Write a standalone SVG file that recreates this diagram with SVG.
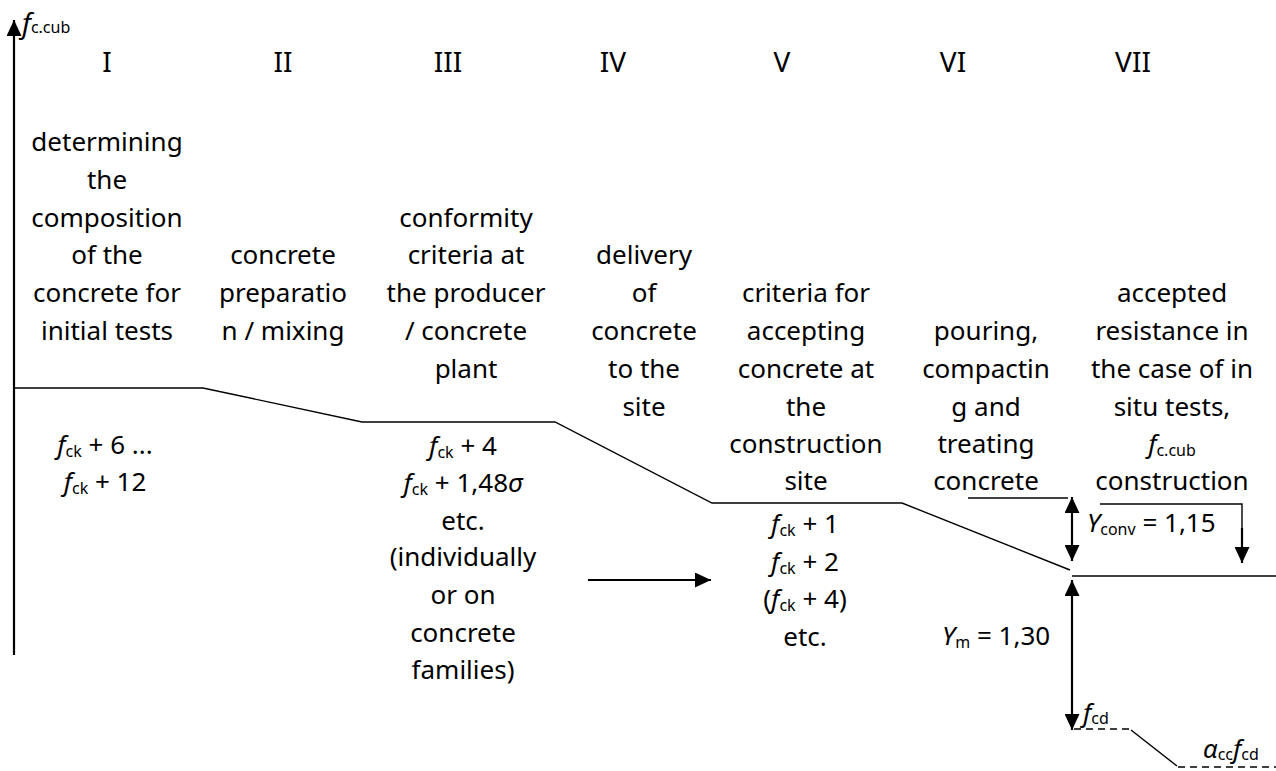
<svg xmlns="http://www.w3.org/2000/svg" width="1276" height="771" viewBox="0 0 1276 771">
<defs>
<style>
text{font-family:"Noto Sans","Open Sans",sans-serif;fill:#000;}
.col{font-size:26px;text-anchor:middle;}
.num{font-size:28px;text-anchor:middle;}
.m{font-size:26px;text-anchor:middle;}
.ml{font-size:26px;}
.i{font-style:italic;}
.s{font-size:16px;}
.thin{stroke:#000;stroke-width:1.4;fill:none;}
.thick{stroke:#000;stroke-width:2.2;fill:none;}
.dash{stroke:#000;stroke-width:1.6;fill:none;stroke-dasharray:7 5;}
</style>
<marker id="ah" viewBox="0 0 16 15" refX="16" refY="7.5" markerWidth="16" markerHeight="15" markerUnits="userSpaceOnUse" orient="auto-start-reverse">
<path d="M0,0 L16,7.5 L0,15 Z" fill="#000"/>
</marker>
</defs>
<rect width="1276" height="771" fill="#fff"/>

<g id="connectors">
<line class="thick" x1="14" y1="655" x2="14" y2="20" marker-end="url(#ah)"/>
<polyline class="thin" points="14,388 203,388 362,422 555,422 712,503 902,503 1070,570"/>
<line class="thin" x1="1072" y1="576" x2="1276" y2="576"/>
<line class="thin" x1="968" y1="498" x2="1068" y2="498"/>
<line class="thick" x1="1072" y1="497" x2="1072" y2="561" marker-start="url(#ah)" marker-end="url(#ah)"/>
<polyline class="thin" points="1100,504 1242,504 1242,530"/>
<line class="thick" x1="1242" y1="528" x2="1242" y2="563" marker-end="url(#ah)"/>
<line class="thick" x1="1072" y1="580" x2="1072" y2="730" marker-start="url(#ah)" marker-end="url(#ah)"/>
<line class="thick" x1="588" y1="580" x2="711" y2="580" marker-end="url(#ah)"/>
<line class="dash" x1="1074" y1="729" x2="1130" y2="729"/>
<line class="thin" x1="1131" y1="730" x2="1177" y2="766"/>
<line class="dash" x1="1178" y1="767" x2="1276" y2="767"/>
</g>

<g id="axis-label">
<text x="22" y="33" font-size="28"><tspan class="i">f</tspan><tspan font-size="16">c.cub</tspan></text>
</g>

<g id="col-I">
<text class="num" x="107" y="72">I</text>
<text class="col" x="107" y="151">determining</text>
<text class="col" x="107" y="189">the</text>
<text class="col" x="107" y="227">composition</text>
<text class="col" x="107" y="264">of the</text>
<text class="col" x="107" y="302">concrete for</text>
<text class="col" x="107" y="340">initial tests</text>
<text class="m" x="105" y="454"><tspan class="i">f</tspan><tspan class="s" dy="3">ck</tspan><tspan dy="-3"> + 6 ...</tspan></text>
<text class="m" x="105" y="491"><tspan class="i">f</tspan><tspan class="s" dy="3">ck</tspan><tspan dy="-3"> + 12</tspan></text>
</g>

<g id="col-II">
<text class="num" x="283" y="72">II</text>
<text class="col" x="283" y="264">concrete</text>
<text class="col" x="283" y="302">preparatio</text>
<text class="col" x="283" y="340">n / mixing</text>
</g>

<g id="col-III">
<text class="num" x="448" y="72">III</text>
<text class="col" x="466" y="227">conformity</text>
<text class="col" x="466" y="264">criteria at</text>
<text class="col" x="466" y="302">the producer</text>
<text class="col" x="466" y="340">/ concrete</text>
<text class="col" x="466" y="378">plant</text>
<text class="m" x="463" y="455"><tspan class="i">f</tspan><tspan class="s" dy="3">ck</tspan><tspan dy="-3"> + 4</tspan></text>
<text class="m" x="463" y="492"><tspan class="i">f</tspan><tspan class="s" dy="3">ck</tspan><tspan dy="-3"> + 1,48</tspan><tspan class="i">σ</tspan></text>
<text class="m" x="463" y="530">etc.</text>
<text class="m" x="463" y="566">(individually</text>
<text class="m" x="463" y="604">or on</text>
<text class="m" x="463" y="642">concrete</text>
<text class="m" x="463" y="679">families)</text>
</g>

<g id="col-IV">
<text class="num" x="613" y="72">IV</text>
<text class="col" x="644" y="264">delivery</text>
<text class="col" x="644" y="302">of</text>
<text class="col" x="644" y="340">concrete</text>
<text class="col" x="644" y="378">to the</text>
<text class="col" x="644" y="416">site</text>
</g>

<g id="col-V">
<text class="num" x="782" y="72">V</text>
<text class="col" x="806" y="302">criteria for</text>
<text class="col" x="806" y="340">accepting</text>
<text class="col" x="806" y="378">concrete at</text>
<text class="col" x="806" y="416">the</text>
<text class="col" x="806" y="453">construction</text>
<text class="col" x="806" y="490">site</text>
<text class="m" x="805" y="533"><tspan class="i">f</tspan><tspan class="s" dy="3">ck</tspan><tspan dy="-3"> + 1</tspan></text>
<text class="m" x="805" y="571"><tspan class="i">f</tspan><tspan class="s" dy="3">ck</tspan><tspan dy="-3"> + 2</tspan></text>
<text class="m" x="805" y="608">(<tspan class="i">f</tspan><tspan class="s" dy="3">ck</tspan><tspan dy="-3"> + 4)</tspan></text>
<text class="m" x="805" y="646">etc.</text>
</g>

<g id="col-VI">
<text class="num" x="953" y="72">VI</text>
<text class="col" x="986" y="340">pouring,</text>
<text class="col" x="986" y="378">compactin</text>
<text class="col" x="986" y="416">g and</text>
<text class="col" x="986" y="453">treating</text>
<text class="col" x="986" y="490">concrete</text>
</g>

<g id="col-VII">
<text class="num" x="1133" y="72">VII</text>
<text class="col" x="1172" y="302">accepted</text>
<text class="col" x="1172" y="340">resistance in</text>
<text class="col" x="1172" y="378">the case of in</text>
<text class="col" x="1172" y="416">situ tests,</text>
<text class="col" x="1172" y="453"><tspan class="i">f</tspan><tspan class="s" dy="3">c.cub</tspan></text>
<text class="col" x="1172" y="490">construction</text>
</g>

<g id="factors">
<text class="ml" x="1087" y="532"><tspan class="i">Y</tspan><tspan class="s" dy="3">conv</tspan><tspan dy="-3"> = 1,15</tspan></text>
<text class="ml" x="942" y="645"><tspan class="i">Y</tspan><tspan class="s" dy="3">m</tspan><tspan dy="-3"> = 1,30</tspan></text>
<text class="ml" x="1083" y="722"><tspan class="i">f</tspan><tspan class="s" dy="2">cd</tspan></text>
<text class="ml" x="1203" y="758"><tspan class="i">α</tspan><tspan class="s" dy="2">cc</tspan><tspan class="i" dy="-2">f</tspan><tspan class="s" dy="2">cd</tspan></text>
</g>
</svg>
